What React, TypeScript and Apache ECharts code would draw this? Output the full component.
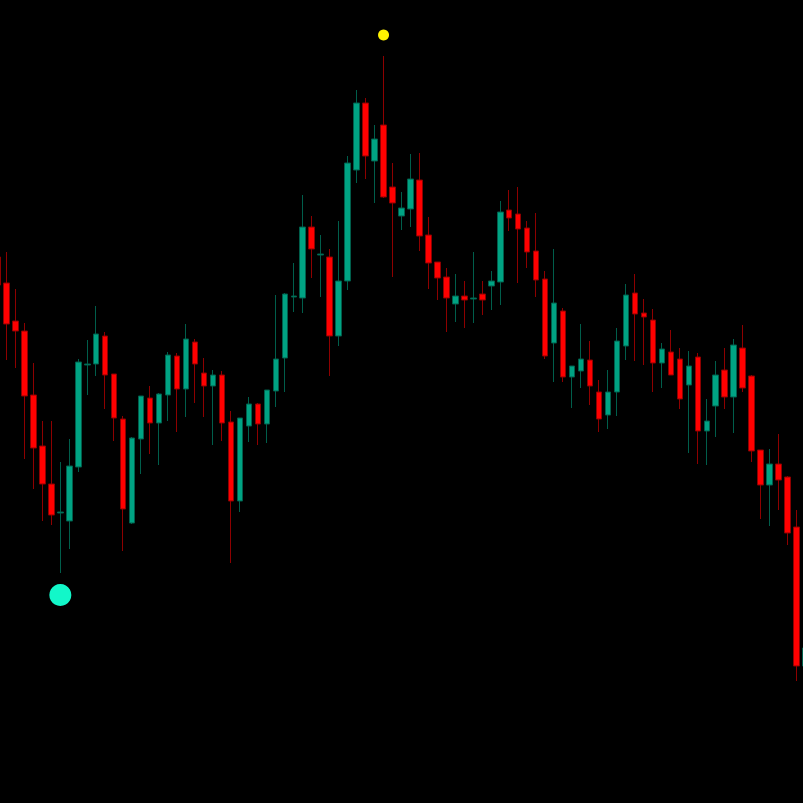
import React, { useEffect, useRef } from "react";
import * as echarts from "echarts";

// Candles: index -1 (partly off-screen) through 89
const opens = [
  546, 520, 482, 472, 408, 357, 319, 290, 282, 336, 438, 439, 467, 429, 384, 280, 364, 405, 380, 408,
  447, 414, 461, 430, 417, 428, 381, 302, 377, 399, 379, 412, 445, 506, 505, 576, 548, 546, 467, 522,
  633, 700, 642, 678, 616, 587, 594, 623, 568, 541, 526, 499, 507, 504, 509, 517, 521, 593, 589, 575,
  552, 524, 460, 492, 426, 432, 443, 411, 388, 411, 457, 510, 490, 483, 440, 451, 444, 418, 446, 372,
  397, 433, 406, 455, 427, 353, 318, 339, 326, 276, 137,
];
const closes = [
  518, 479, 472, 407, 355, 319, 288, 291, 337, 441, 439, 469, 428, 385, 294, 365, 407, 380, 409, 448,
  414, 464, 439, 417, 428, 380, 302, 385, 399, 379, 413, 444, 509, 507, 576, 554, 549, 467, 522, 640,
  700, 647, 664, 606, 600, 595, 624, 567, 540, 525, 505, 507, 503, 505, 503, 522, 591, 585, 574, 551,
  523, 447, 500, 426, 437, 444, 417, 384, 411, 462, 508, 489, 486, 440, 454, 428, 404, 437, 372, 382,
  428, 406, 458, 415, 352, 318, 339, 323, 270, 137, 155,
];
const lows = [
  513, 443, 435, 344, 314, 282, 278, 230, 254, 331, 408, 427, 394, 362, 252, 279, 329, 349, 338, 382,
  371, 386, 400, 386, 358, 362, 240, 291, 361, 358, 360, 396, 411, 491, 490, 525, 506, 427, 457, 513,
  620, 624, 600, 605, 526, 573, 576, 552, 514, 503, 471, 481, 475, 480, 488, 493, 498, 572, 520, 535,
  506, 444, 421, 421, 395, 415, 398, 371, 374, 387, 443, 442, 438, 411, 415, 428, 394, 350, 339, 338,
  366, 394, 370, 411, 341, 284, 277, 293, 258, 122, 133,
];
const highs = [
  553, 551, 514, 480, 440, 382, 382, 341, 364, 444, 463, 497, 471, 429, 387, 366, 407, 417, 410, 451,
  450, 479, 464, 445, 433, 432, 392, 385, 406, 400, 413, 508, 510, 540, 608, 587, 568, 554, 582, 647,
  713, 705, 678, 747, 640, 611, 649, 650, 586, 541, 535, 529, 522, 551, 522, 532, 602, 613, 616, 582,
  590, 532, 554, 495, 437, 479, 462, 423, 433, 475, 519, 529, 504, 494, 460, 473, 455, 452, 450, 404,
  442, 455, 464, 478, 428, 353, 354, 369, 327, 293, 158,
];
const candleLabels = opens.map((_, i) => String(i - 1));

// Highlight markers: [candle index in the array, value]
const highMarker = [43, 768];
const lowMarker = [7, 208];

export default function App() {
  const ref = useRef<HTMLDivElement>(null);
  useEffect(() => {
    if (!ref.current) return;
    const chart = echarts.init(ref.current, null, { renderer: "svg" });
    const candleData = opens.map((o, i) => [o, closes[i], lows[i], highs[i]]);
    chart.setOption({
      animation: false,
      backgroundColor: "#000000",
      grid: { left: 0, right: 0, top: 0, bottom: 0 },
      xAxis: {
        type: "category",
        data: candleLabels,
        show: false,
        boundaryGap: true,
      },
      yAxis: {
        type: "value",
        min: 0,
        max: 803,
        show: false,
        splitLine: { show: false },
      },
      series: [
        {
          type: "candlestick",
          data: candleData,
          barWidth: 6,
          itemStyle: {
            color: "#00A383",
            color0: "#FF0000",
            borderColor: "#005E4B",
            borderColor0: "#8E0000",
            borderWidth: 1,
          },
        },
        {
          type: "scatter",
          data: [highMarker],
          symbol: "circle",
          symbolSize: 11,
          itemStyle: { color: "#FFF200", opacity: 1 },
        },
        {
          type: "scatter",
          data: [lowMarker],
          symbol: "circle",
          symbolSize: 22,
          itemStyle: { color: "#12F7C9", opacity: 1 },
        },
      ],
    });
    return () => chart.dispose();
  }, []);
  return (
    <div style={{ position: "fixed", left: 0, top: 0, width: 803, height: 803, overflow: "hidden", background: "#000" }}>
      <div
        ref={ref}
        style={{ position: "absolute", left: -7.46, top: 0, width: 816.66, height: 803 }}
      />
    </div>
  );
}
